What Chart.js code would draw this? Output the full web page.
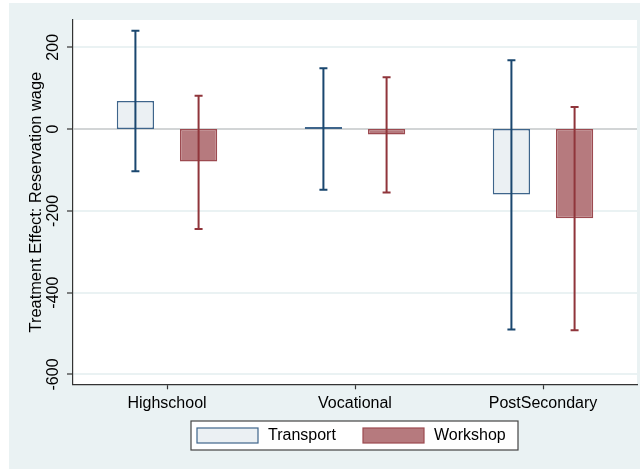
<!DOCTYPE html>
<html>
<head>
<meta charset="utf-8">
<script src="https://cdn.jsdelivr.net/npm/chart.js@4"></script>
<style>
  html, body { margin: 0; padding: 0; background: #ffffff; }
  #wrap { width: 640px; height: 469px; }
</style>
</head>
<body>
<div id="wrap"><canvas id="c" width="640" height="469"></canvas></div>
<script>
// Treatment effects on reservation wage by education group, with confidence intervals
const categories = ['Highschool', 'Vocational', 'PostSecondary'];
const transport = [68.5, 2, -160];
const transportLow = [-103, -148.5, -490];
const transportHigh = [240.5, 149, 168];
const workshop = [-79, -13, -218];
const workshopLow = [-244, -155, -492];
const workshopHigh = [81.5, 127, 54];
const yTicks = [-600, -400, -200, 0, 200];
const yTitle = 'Treatment Effect: Reservation wage';

const FONT = '"Liberation Sans", Arial, Helvetica, sans-serif';
const BG = '#eaf2f3';
const NAVY = '#1a476f';
const MAROON = '#90353b';

const series = [
  { label: 'Transport', values: transport, low: transportLow, high: transportHigh,
    fill: '#ebf0f3', border: '#3e658b', whisker: NAVY },
  { label: 'Workshop', values: workshop, low: workshopLow, high: workshopHigh,
    fill: '#b67a7e', border: '#9c4a50', whisker: MAROON }
];

// Page background and white plot region
const backgroundPlugin = {
  id: 'stataBackground',
  beforeDraw(chart) {
    const { ctx, chartArea: a } = chart;
    ctx.save();
    ctx.fillStyle = '#ffffff';
    ctx.fillRect(0, 0, chart.width, chart.height);
    ctx.fillStyle = BG;
    ctx.fillRect(9, 3, chart.width - 9, chart.height - 3);
    ctx.fillStyle = '#ffffff';
    ctx.fillRect(a.left, a.top, a.right - a.left, a.bottom - a.top);
    ctx.restore();
  },
  // reference line at zero, under the bars
  beforeDatasetsDraw(chart) {
    const { ctx, chartArea: a } = chart;
    const y0 = chart.scales.y.getPixelForValue(0);
    ctx.save();
    ctx.strokeStyle = '#c3c7c8';
    ctx.lineWidth = 1.5;
    ctx.beginPath();
    ctx.moveTo(a.left, y0);
    ctx.lineTo(a.right, y0);
    ctx.stroke();
    ctx.restore();
  }
};

// Confidence interval whiskers with caps
const errorBarPlugin = {
  id: 'errorBars',
  afterDatasetsDraw(chart) {
    const { ctx } = chart;
    const y = chart.scales.y;
    ctx.save();
    ctx.lineWidth = 2;
    series.forEach((s, d) => {
      const meta = chart.getDatasetMeta(d);
      ctx.strokeStyle = s.whisker;
      meta.data.forEach((el, i) => {
        const x = el.x;
        const yl = y.getPixelForValue(s.low[i]);
        const yh = y.getPixelForValue(s.high[i]);
        ctx.beginPath();
        ctx.moveTo(x, yl); ctx.lineTo(x, yh);
        ctx.moveTo(x - 4, yl); ctx.lineTo(x + 4, yl);
        ctx.moveTo(x - 4, yh); ctx.lineTo(x + 4, yh);
        ctx.stroke();
      });
    });
    ctx.restore();
  }
};

// Vertical y tick labels, axis title and boxed legend
const annotationPlugin = {
  id: 'axisText',
  afterDraw(chart) {
    const { ctx, chartArea: a } = chart;
    const y = chart.scales.y;
    ctx.save();
    ctx.fillStyle = '#000000';
    ctx.font = '16px ' + FONT;
    ctx.textAlign = 'center';
    ctx.textBaseline = 'middle';
    yTicks.forEach(v => {
      const py = y.getPixelForValue(v);
      ctx.save();
      ctx.translate(54, py);
      ctx.rotate(-Math.PI / 2);
      ctx.fillText(String(v), 0, 0);
      ctx.restore();
    });
    ctx.save();
    ctx.translate(36, (a.top + a.bottom) / 2);
    ctx.rotate(-Math.PI / 2);
    ctx.font = '16.4px ' + FONT;
    ctx.fillText(yTitle, 0, 0);
    ctx.restore();

    // legend
    ctx.fillStyle = '#ffffff';
    ctx.fillRect(191, 421, 327, 29);
    ctx.strokeStyle = '#444444';
    ctx.lineWidth = 1.2;
    ctx.strokeRect(191, 421, 327, 29);
    const swatchX = [197, 363];
    const textX = [268, 434];
    series.forEach((s, i) => {
      ctx.fillStyle = s.fill;
      ctx.fillRect(swatchX[i], 428, 61, 15);
      ctx.strokeStyle = s.border;
      ctx.lineWidth = 1.2;
      ctx.strokeRect(swatchX[i], 428, 61, 15);
      ctx.fillStyle = '#000000';
      ctx.textAlign = 'left';
      ctx.textBaseline = 'middle';
      ctx.fillText(s.label, textX[i], 436);
    });
    ctx.restore();
  }
};

new Chart(document.getElementById('c'), {
  type: 'bar',
  data: {
    labels: categories,
    datasets: series.map(s => ({
      label: s.label,
      data: s.values,
      backgroundColor: s.fill,
      borderColor: s.border,
      borderWidth: 1.5,
      borderSkipped: false,
      minBarLength: 2,
      categoryPercentage: 0.672,
      barPercentage: 0.59
    }))
  },
  options: {
    responsive: false,
    animation: false,
    devicePixelRatio: 1,
    layout: { padding: { left: 67, right: 3, top: 20, bottom: 50.5 } },
    plugins: { legend: { display: false }, tooltip: { enabled: false } },
    scales: {
      x: {
        grid: { offset: false, drawOnChartArea: false, drawTicks: true, tickLength: 5, tickColor: '#333333', tickWidth: 1.2 },
        border: { display: true, color: '#333333', width: 1.2 },
        ticks: { color: '#000000', font: { family: FONT, size: 16 }, padding: 5, maxRotation: 0 }
      },
      y: {
        min: -624,
        max: 266.7,
        afterBuildTicks(scale) { scale.ticks = yTicks.map(v => ({ value: v })); },
        grid: {
          color: c => (c.tick && c.tick.value === 0) ? 'rgba(0,0,0,0)' : BG,
          lineWidth: c => (c.tick && c.tick.value === 0) ? 0 : 2,
          drawTicks: true, tickLength: 6, tickColor: '#333333', tickWidth: 1.2
        },
        border: { display: true, color: '#333333', width: 1.2 },
        ticks: { display: false }
      }
    }
  },
  plugins: [backgroundPlugin, errorBarPlugin, annotationPlugin]
});
</script>
</body>
</html>
